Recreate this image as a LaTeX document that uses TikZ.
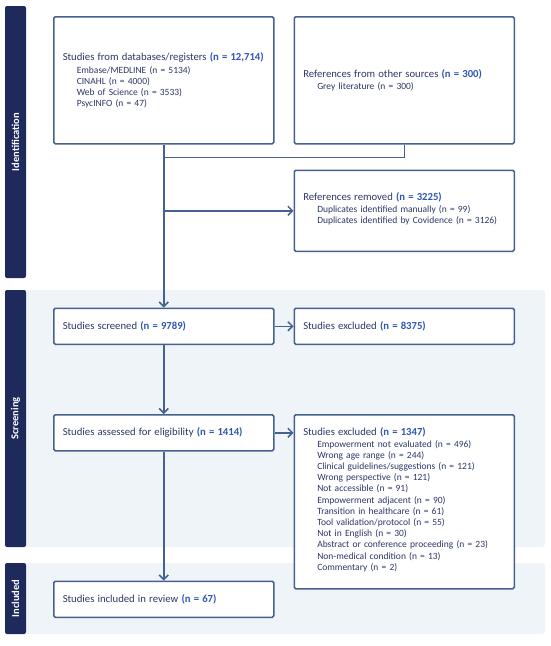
\documentclass[tikz,border=0pt]{standalone}
\usepackage{fontspec}
\setmainfont{Carlito}
\usetikzlibrary{arrows.meta,positioning}

\definecolor{edgeblue}{HTML}{46618F}
\definecolor{inkblue}{HTML}{2C3768}
\definecolor{numblue}{HTML}{2F56B4}
\definecolor{phasenavy}{HTML}{1F2A5C}
\definecolor{bandfill}{HTML}{EFF4F9}

\newcommand{\hd}{\fontsize{10.7}{12}\selectfont}
\newcommand{\nval}[1]{\textcolor{numblue}{\textbf{#1}}}
\newcommand{\reason}[1]{\hspace*{14pt}#1}

\begin{document}
\begin{tikzpicture}[x=1pt,y=-1pt,node distance=19pt,
    box/.style={draw=edgeblue,line width=1.5pt,rounded corners=1.5pt,fill=white,text=inkblue,
      minimum width=220pt,text width=202pt,inner xsep=9pt,align=left,
      font=\fontsize{9.5}{11.2}\selectfont},
    phase/.style={fill=phasenavy,rounded corners=2pt,rotate=90,text=white,minimum height=21pt,
      font=\fontsize{10.5}{12}\selectfont\bfseries},
    flow/.style={draw=edgeblue,line width=1.5pt},
    arr/.style={flow,-{Straight Barb[length=4.5pt,width=9pt,line width=1.5pt]}}]
  \useasboundingbox (0,0) rectangle (550,646);

  \fill[bandfill,rounded corners=3pt] (5,290) rectangle (545,547);
  \fill[bandfill,rounded corners=3pt] (5,563) rectangle (545,634);

  \node[phase,minimum width=272pt] (ident) at (15.5,142) {Identification};
  \node[phase,minimum width=257pt] (screen) at (15.5,418.5) {Screening};
  \node[phase,minimum width=71pt] (incl) at (15.5,598.5) {Included};

  \node[box,anchor=north west,minimum height=127pt] (db) at (53,16)
    {{\hd Studies from databases/registers \nval{(n = 12,714)}}\\[2pt]
     \reason{Embase/MEDLINE (n = 5134)}\\
     \reason{CINAHL (n = 4000)}\\
     \reason{Web of Science (n = 3533)}\\
     \reason{PsycINFO (n = 47)}};
  \node[box,minimum height=127pt,right=of db] (other)
    {{\hd References from other sources \nval{(n = 300)}}\\[1pt]
     \reason{Grey literature (n = 300)}};
  \node[box,minimum height=81pt,below=25pt of other] (removed)
    {{\hd References removed \nval{(n = 3225)}}\\[1pt]
     \reason{Duplicates identified manually (n = 99)}\\
     \reason{Duplicates identified by Covidence (n = 3126)}\\[-6pt]\mbox{}};
  \node[box,minimum height=36pt,below=163pt of db] (screened)
    {{\hd Studies screened \nval{(n = 9789)}}};
  \node[box,minimum height=36pt,right=of screened] (excl_a)
    {{\hd Studies excluded \nval{(n = 8375)}}};
  \node[box,minimum height=36pt,below=69pt of screened] (assessed)
    {{\hd Studies assessed for eligibility \nval{(n = 1414)}}};
  \node[box,anchor=north west,minimum height=174pt] (excl_b) at ([xshift=19pt]assessed.north east)
    {{\hd Studies excluded \nval{(n = 1347)}}\\
     \reason{Empowerment not evaluated (n = 496)}\\
     \reason{Wrong age range (n = 244)}\\
     \reason{Clinical guidelines/suggestions (n = 121)}\\
     \reason{Wrong perspective (n = 121)}\\
     \reason{Not accessible (n = 91)}\\
     \reason{Empowerment adjacent (n = 90)}\\
     \reason{Transition in healthcare (n = 61)}\\
     \reason{Tool validation/protocol (n = 55)}\\
     \reason{Not in English (n = 30)}\\
     \reason{Abstract or conference proceeding (n = 23)}\\
     \reason{Non-medical condition (n = 13)}\\
     \reason{Commentary (n = 2)}\\[-6pt]\mbox{}};
  \node[box,minimum height=36pt,below=129pt of assessed] (included)
    {{\hd Studies included in review \nval{(n = 67)}}};

  \draw[arr] (db.south) -- (screened.north);
  \path (other.south) ++(0,13) coordinate (join);
  \draw[flow] (other.south) -- (join) -- (join -| db.south);
  \draw[arr] (db.south |- removed.west) -- (removed.west);
  \draw[arr] (screened.east) -- (excl_a.west);
  \draw[arr] (screened.south) -- (assessed.north);
  \draw[arr] (assessed.east) -- (assessed.east -| excl_b.west);
  \draw[arr] (assessed.south) -- (included.north);
\end{tikzpicture}
\end{document}
